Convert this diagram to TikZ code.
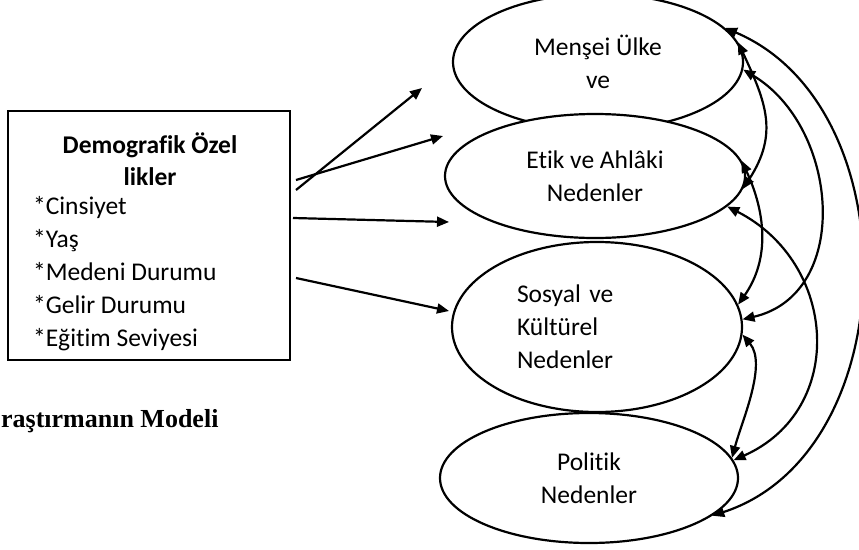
\documentclass[tikz,border=0pt]{standalone}
\usepackage{fontspec}
\setmainfont{Carlito}[Ligatures=NoCommon]
\newfontfamily\capfont{Liberation Serif}
\usetikzlibrary{shapes,arrows.meta}

\tikzset{
	oval/.style={shape=ellipse, draw, fill=white, inner sep=0pt, align=center},
	txt/.style={inner sep=0pt}
}

\begin{document}
\begin{tikzpicture}[x=1pt, y=1pt, line width=2.2pt, >={Triangle[length=12pt,width=10pt]}, font=\fontsize{25.5}{33}\selectfont]
	\useasboundingbox (0,0) rectangle (859,-549);

	\node[shape=rectangle, draw, minimum width=282, minimum height=249] (demo) at (149,-235.5) {};
	\node[txt, anchor=north, align=center, font=\fontsize{25.5}{32}\selectfont\bfseries] (head) at (150,-132) {Demografik Özel\\likler};
	\node[txt, anchor=north west, align=left] (items) at (32,-195) {*Cinsiyet\\*Yaş\\*Medeni Durumu\\*Gelir Durumu\\*Eğitim Seviyesi};
	\node[txt, anchor=base west, font=\capfont\fontsize{26}{30}\selectfont\bfseries] (caption) at (0,-427) {raştırmanın Modeli};

	\node[oval, minimum width=290, minimum height=136] (e1) at (598,-62) {Menşei Ülke\\ve};
	\node[oval, minimum width=300, minimum height=124] (e2) at (595,-176) {Etik ve Ahlâki\\Nedenler};
	\node[oval, minimum width=290, minimum height=170, text width=160, align=left] (e3) at (597,-327) {Sosyal ve\\Kültürel\\Nedenler};
	\node[oval, minimum width=298, minimum height=130] (e4) at (589,-478) {Politik\\Nedenler};

	\coordinate (s1) at (296,-190);
	\coordinate (s2) at (296,-180);
	\coordinate (s3) at (293,-218);
	\coordinate (s4) at (296,-278);
	\coordinate (t1) at (422,-88);
	\coordinate (t2) at (443,-136);
	\coordinate (t3) at (449,-222);
	\coordinate (t4) at (449,-311);

	\path [->] (s1) edge (t1);
	\path [->] (s2) edge (t2);
	\path [->] (s3) edge (t3);
	\path [->] (s4) edge (t4);

	\path [<->] (e1.8) edge[out=-65, in=57, looseness=1.15] (e2.-5);
	\path [<->] (e1.-3) edge[out=-31, in=13, looseness=1.15] (e3.3);
	\path [<->] (e1.15) edge[out=-23, in=18, looseness=1.06] (e4.-17);
	\path [<->] (e2.6) edge[out=-65, in=55, looseness=1.0] (e3.9);
	\path [<->] (e2.-13) edge[out=-27, in=24, looseness=1.25] (e4.7);
	\path [<->] (e3.-3) edge[out=-50, in=75, looseness=0.8] (e4.8);
\end{tikzpicture}
\end{document}
